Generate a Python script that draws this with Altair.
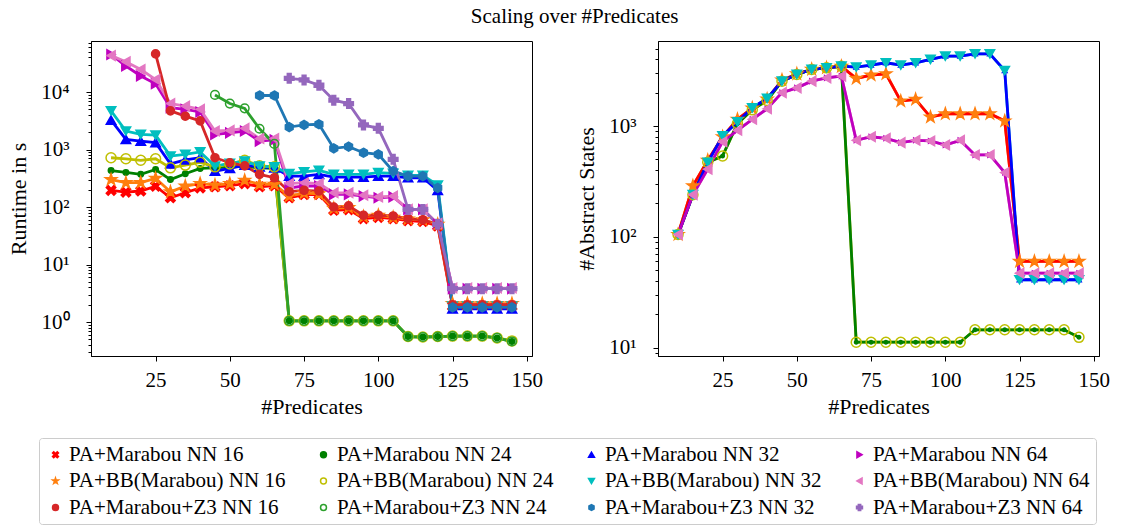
import altair as alt
import pandas as pd

XS = list(range(10, 150, 5))

NAMES = ["PA+Marabou NN 16", "PA+Marabou NN 24", "PA+Marabou NN 32", "PA+Marabou NN 64",
         "PA+BB(Marabou) NN 16", "PA+BB(Marabou) NN 24", "PA+BB(Marabou) NN 32", "PA+BB(Marabou) NN 64",
         "PA+Marabou+Z3 NN 16", "PA+Marabou+Z3 NN 24", "PA+Marabou+Z3 NN 32", "PA+Marabou+Z3 NN 64"]
STROKES = ["#ff0000", "#008000", "#0000ff", "#bf00bf",
           "#ff7f0e", "#bfbf00", "#00bfbf", "#e377c2",
           "#d62728", "#2ca02c", "#1f77b4", "#9467bd"]
FILLS = ["#ff0000", "#008000", "#0000ff", "#bf00bf",
         "#ff7f0e", "transparent", "#00bfbf", "#e377c2",
         "#d62728", "transparent", "#1f77b4", "#9467bd"]
X_SHAPE = "M-1,-0.6L-0.6,-1L0,-0.4L0.6,-1L1,-0.6L0.4,0L1,0.6L0.6,1L0,0.4L-0.6,1L-1,0.6L-0.4,0Z"
STAR = "M0,-1L0.2245,-0.309L0.951,-0.309L0.363,0.118L0.588,0.809L0,0.382L-0.588,0.809L-0.363,0.118L-0.951,-0.309L-0.2245,-0.309Z"
HEX = "M0,-1L0.866,-0.5L0.866,0.5L0,1L-0.866,0.5L-0.866,-0.5Z"
SHAPES = [X_SHAPE, "circle", "triangle-up", "triangle-right",
          STAR, "circle", "triangle-down", "triangle-left",
          "circle", "circle", HEX, "cross"]
SIZES_LEFT = [90, 30, 90, 90, 140, 100, 90, 90, 65, 75, 80, 90]
SIZES_RIGHT = [20, 12, 20, 20, 140, 100, 90, 90]

# ---- Runtime in s (left) ----
RT_M16 = [195, 182, 190, 230, 145, 177, 215, 225, 235, 255, 225, 235, 145, 165, 165, 88, 90, 63, 66, 63, 58, 56, 47, 1.9, 1.9, 1.9, 1.9, 1.9]
RT_BB16 = [300, 265, 265, 316, 184, 231, 256, 240, 256, 292, 248, 248, 155, 175, 170, 95, 98, 68, 72, 66, 62, 60, 50, 2.1, 2.1, 2.1, 2.1, 2.1]
RT_Z16 = [None, None, None, 46000, 4700, 3800, 3150, 720, 590, 520, 370, 323, 185, 195, 190, 100, 105, 72, 72, 70, 63, 60, 50, 2.0, 2.0, 2.0, 2.0, 2.0]
RT_M24 = [430, 400, 370, 450, 300, 380, 470, 480, 500, 510, 480, 470, 1.05, 1.05, 1.05, 1.05, 1.05, 1.05, 1.05, 1.05, 0.56, 0.55, 0.56, 0.57, 0.57, 0.57, 0.53, 0.46]
RT_BB24 = [720, 690, 650, 690, 480, 536, 600, 500, 560, 650, 520, 500, 1.05, 1.05, 1.05, 1.05, 1.05, 1.05, 1.05, 1.05, 0.56, 0.55, 0.56, 0.57, 0.57, 0.57, 0.53, 0.47]
RT_Z24 = [None, None, None, None, None, None, None, 8900, 6300, 5200, 2300, 1250, 1.05, 1.05, 1.05, 1.05, 1.05, 1.05, 1.05, 1.05, 0.56, 0.55, 0.56, 0.57, 0.57, 0.57, 0.53, 0.46]
RT_M32 = [3250, 1500, 1400, 1320, 565, 660, 720, 420, 470, 536, 500, 480, 345, 345, 370, 330, 330, 330, 345, 345, 323, 323, 195, 1.7, 1.7, 1.7, 1.7, 1.7]
RT_BB32 = [4700, 2100, 1830, 1780, 770, 825, 910, 515, 575, 630, 515, 500, 380, 410, 435, 370, 370, 370, 395, 385, 355, 355, 240, 1.9, 1.9, 1.9, 1.9, 1.9]
RT_Z32 = [None, None, None, None, None, None, None, None, None, None, 8700, 8700, 2460, 2680, 2750, 1050, 1120, 880, 825, 420, 345, 345, 215, 1.8, 1.8, 1.8, 1.8, 1.8]
RT_M64 = [45000, 28300, 19000, 13900, 5350, 5000, 4500, 1830, 1950, 2100, 1400, 1470, 215, 232, 232, 166, 166, 155, 145, 150, 91, 91, 50, 3.8, 3.8, 3.8, 3.8, 3.8]
RT_BB64 = [43000, 33600, 24700, 16500, 6300, 5700, 5000, 2100, 2150, 2340, 1550, 1560, 256, 265, 256, 177, 177, 160, 150, 155, 91, 91, 52, 3.9, 3.9, 3.9, 3.9, 3.9]
RT_Z64 = [None, None, None, None, None, None, None, None, None, None, None, None, 17300, 16200, 13100, 7200, 6300, 2680, 2340, 675, 91, 91, 50, 3.8, 3.8, 3.8, 3.8, 3.8]

# ---- #Abstract States (right) ----
ST_16 = [105, 288, 490, 800, 1150, 1450, 1750, 2600, 2950, 3250, 3350, 3450, 2690, 2880, 2960, 1680, 1740, 1205, 1290, 1290, 1290, 1290, 1110, 60, 60, 60, 60, 60]
ST_24 = [105, 240, 470, 537, 1050, 1400, 1700, 2540, 2920, 3240, 3350, 3470, 11.2, 11.2, 11.2, 11.2, 11.2, 11.2, 11.2, 11.2, 14.5, 14.5, 14.5, 14.5, 14.5, 14.5, 14.5, 12.4]
ST_32 = [105, 240, 470, 813, 1090, 1460, 1775, 2540, 2920, 3240, 3350, 3470, 3400, 3550, 3720, 3550, 3720, 3990, 4270, 4270, 4480, 4480, 3170, 41, 41, 41, 41, 41]
ST_64 = [105, 240, 408, 722, 915, 1150, 1430, 2000, 2210, 2540, 2720, 2820, 743, 800, 775, 708, 743, 733, 674, 743, 548, 548, 380, 47, 47, 47, 47, 47]

LEFT_VALUES = [RT_M16, RT_M24, RT_M32, RT_M64, RT_BB16, RT_BB24, RT_BB32, RT_BB64,
               RT_Z16, RT_Z24, RT_Z32, RT_Z64]
RIGHT_VALUES = {0: ST_16, 1: ST_24, 2: ST_32, 3: ST_64, 4: ST_16, 5: ST_24, 6: ST_32, 7: ST_64}

left_rows = []
for i, vals in enumerate(LEFT_VALUES):
    for x, v in zip(XS, vals):
        if v is not None:
            left_rows.append({"series": NAMES[i], "x": x, "y": v, "sz": SIZES_LEFT[i], "o": i})
left_df = pd.DataFrame(left_rows)

right_rows = []
for i in [4, 5, 6, 7, 0, 1, 2, 3]:
    for x, v in zip(XS, RIGHT_VALUES[i]):
        right_rows.append({"series": NAMES[i], "x": x, "y": v, "sz": SIZES_RIGHT[i], "o": i})
right_df = pd.DataFrame(right_rows)

LEG = alt.Legend(title=None, orient="none", legendX=-52, legendY=397, columns=4,
                 direction="horizontal", gridAlign="all",
                 labelFontSize=21, labelFont="Liberation Serif", labelColor="black",
                 symbolSize=35, symbolStrokeWidth=1.5, rowPadding=4.5, columnPadding=27,
                 labelOffset=3, strokeColor="#cccccc", padding=6, cornerRadius=3,
                 labelLimit=400, fillColor="white")

color_enc = alt.Color("series:N", scale=alt.Scale(domain=NAMES, range=STROKES), legend=LEG)
fill_enc = alt.Fill("series:N", scale=alt.Scale(domain=NAMES, range=FILLS), legend=LEG)
shape_enc = alt.Shape("series:N", scale=alt.Scale(domain=NAMES, range=SHAPES), legend=LEG)

SUP = "'10' + ['\u2070','\u00b9','\u00b2','\u00b3','\u2074','\u2075'][round(log(datum.value)/LN10)]"


def minor_ticks(lo, hi):
    out = []
    for e in range(-2, 6):
        for k in range(2, 10):
            v = k * 10 ** e
            if lo <= v <= hi:
                out.append(v)
    return out


def panel(df, ydom, ytitle, major):
    xenc = alt.X("x:Q", scale=alt.Scale(domain=[3.25, 151.75], nice=False, zero=False),
                 axis=alt.Axis(values=[25, 50, 75, 100, 125, 150], title="#Predicates"))
    yscale = alt.Scale(type="log", domain=ydom, nice=False)
    ymaj = alt.Y("y:Q", scale=yscale,
                 axis=alt.Axis(values=major, title=ytitle, labelExpr=SUP))
    ymin = alt.Y("y:Q", scale=yscale,
                 axis=alt.Axis(values=minor_ticks(*ydom), labels=False, title=None,
                               tickSize=3, domain=False, orient="left"))
    lines = alt.Chart(df).mark_line(strokeWidth=2.8, clip=True).encode(
        x=xenc, y=ymaj,
        color=alt.Color("series:N", scale=alt.Scale(domain=NAMES, range=STROKES)),
        detail="series:N")
    pts = alt.Chart(df).mark_point(filled=False, strokeWidth=1.5, opacity=1, clip=True).encode(
        x=xenc, y=ymin, color=color_enc, fill=fill_enc, shape=shape_enc,
        size=alt.Size("sz:Q", scale=None), order=alt.Order("o:Q"))
    return alt.layer(lines, pts).resolve_axis(y="independent").properties(width=441, height=315)


left = panel(left_df, [0.257, 77100], "Runtime in s", [1, 10, 100, 1000, 10000])
right = panel(right_df, [8.41, 5850], "#Abstract States", [10, 100, 1000])

chart = alt.hconcat(left, right, spacing=31).resolve_scale(
    color="shared", fill="shared", shape="shared"
).properties(
    title=alt.TitleParams("Scaling over #Predicates", fontSize=21, font="Liberation Serif",
                          fontWeight="normal", anchor="middle", offset=14, dx=16,
                          color="black")
).configure(
    font="Liberation Serif", padding={"left": 7, "top": 5, "right": 5, "bottom": 110}
).configure_view(
    stroke="black", strokeWidth=1
).configure_axis(
    labelFont="Liberation Serif", labelFontSize=21, titleFont="Liberation Serif",
    titleFontSize=22, titleFontWeight="normal", labelColor="black", titleColor="black",
    tickColor="black", domainColor="black", grid=False, tickSize=5, tickWidth=1
).configure_axisY(
    labelPadding=17, titlePadding=10
).configure_axisX(
    labelPadding=8, titlePadding=6
)

chart.save("out.html", embed_options={"renderer": "svg", "actions": False})
